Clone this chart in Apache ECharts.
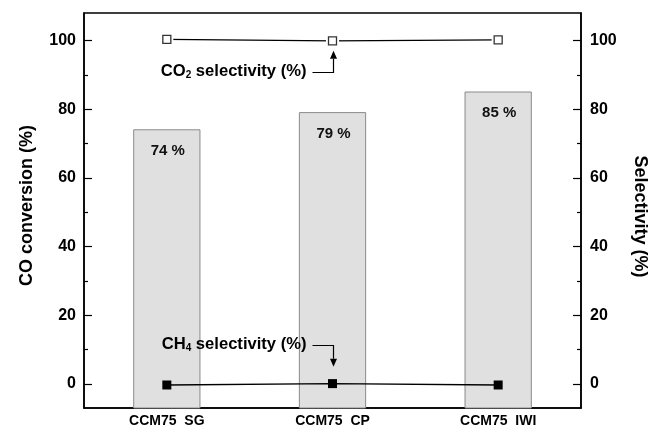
<!DOCTYPE html>
<html>
<head>
<meta charset="utf-8">
<script src="https://cdn.jsdelivr.net/npm/echarts@6/dist/echarts.min.js"></script>
<style>html,body{margin:0;padding:0;background:#fff}#c{width:663px;height:435px}</style>
</head>
<body>
<div id="c"></div>
<script>
const categories = ['CCM75  SG', 'CCM75  CP', 'CCM75  IWI'];
const coConversion = [74, 79, 85];
const co2Selectivity = [100.3, 99.9, 100.2];
const ch4Selectivity = [-0.3, 0.1, -0.3];
const majorTicks = [0, 20, 40, 60, 80, 100];
const minorTicks = [10, 30, 50, 70, 90];
const axisMin = -7, axisMax = 108;

const FONT = '"Liberation Sans", Arial, sans-serif';
const chart = echarts.init(document.getElementById('c'), null, {renderer: 'canvas'});

function yAxisDef(pos, major, name) {
  const base = {
    type: 'value', position: pos, min: axisMin, max: axisMax,
    splitLine: {show: false},
    axisLine: {show: major, onZero: false, lineStyle: {color: '#000', width: 1.5}},
    axisTick: {show: true, inside: true, length: major ? 8 : 4,
      customValues: major ? majorTicks : minorTicks,
      lineStyle: {color: '#000', width: 1.2}},
    axisLabel: major ? {show: true, customValues: majorTicks, color: '#000',
      fontWeight: 'bold', fontSize: 16, fontFamily: FONT, margin: pos === 'left' ? 8 : 9} : {show: false}
  };
  if (major && name) {
    base.name = name;
    base.nameLocation = 'middle';
    base.nameRotate = pos === 'left' ? 90 : -90;
    base.nameGap = pos === 'left' ? 48 : 50;
    base.nameTextStyle = {color: '#000', fontWeight: 'bold', fontSize: 18, fontFamily: FONT,
      padding: pos === 'left' ? [0, 0, 0, 10] : [0, 0, 0, 12]};
  }
  return base;
}

const option = {
  animation: false,
  backgroundColor: '#fff',
  grid: {left: 84, right: 82, top: 13, bottom: 27, show: true, borderColor: '#000', borderWidth: 1.5, backgroundColor: 'transparent'},
  xAxis: [{
    type: 'category', data: categories, position: 'bottom', boundaryGap: true,
    axisLine: {onZero: false, lineStyle: {color: '#000', width: 1.5}},
    axisTick: {inside: true, length: 5, alignWithLabel: false, lineStyle: {color: '#000', width: 1.2}},
    axisLabel: {color: '#000', fontWeight: 'bold', fontSize: 14, fontFamily: FONT, margin: 6},
    splitLine: {show: false}
  }],
  yAxis: [
    yAxisDef('left', true, 'CO conversion (%)'),
    yAxisDef('left', false),
    yAxisDef('right', true, 'Selectivity (%)'),
    yAxisDef('right', false)
  ],
  series: [
    {
      type: 'custom', xAxisIndex: 0, yAxisIndex: 0, z: 1,
      data: coConversion.map((v, i) => [i, v]),
      renderItem: function (params, api) {
        const x = api.value(0), v = api.value(1);
        const top = api.coord([x, v]);
        const base = api.coord([x, axisMin]);
        const w = api.size([1, 0])[0] * 0.4;
        return {
          type: 'group',
          children: [
            {type: 'rect', shape: {x: top[0] - w / 2, y: top[1], width: w, height: base[1] - top[1]},
              style: {fill: '#e0e0e0', stroke: '#8a8a8a', lineWidth: 1}},
            {type: 'text', x: top[0] + 1, y: top[1] + 21,
              style: {text: v + ' %', fill: '#111', font: 'bold 15px ' + FONT, align: 'center', verticalAlign: 'middle'}}
          ]
        };
      }
    },
    {
      type: 'line', yAxisIndex: 2, data: co2Selectivity, z: 3, silent: true,
      lineStyle: {color: '#000', width: 1.3},
      symbol: 'rect', symbolSize: 13, itemStyle: {color: '#fff', borderWidth: 0}
    },
    {
      type: 'scatter', yAxisIndex: 2, data: co2Selectivity, z: 4, silent: true,
      symbol: 'rect', symbolSize: 8, itemStyle: {color: '#fff', borderColor: '#000', borderWidth: 1.3}
    },
    {
      type: 'line', yAxisIndex: 2, data: ch4Selectivity, z: 3, silent: true,
      lineStyle: {color: '#000', width: 1.3},
      symbol: 'rect', symbolSize: 9, itemStyle: {color: '#000', borderWidth: 0}
    }
  ]
};
chart.setOption(option);

// annotations anchored to data coordinates
function px(cat, val) { return chart.convertToPixel({xAxisIndex: 0, yAxisIndex: 2}, [cat, val]); }
function annotation(label, sub, catIdx, lineVal, tipVal, up) {
  const h = px(catIdx, lineVal), t = px(catIdx, tipVal);
  const ax = Math.round(h[0]) + 0.5;
  const hy = Math.round(h[1]) + 0.5;
  const tipY = t[1];
  const headLen = 8, headW = 3.5;
  const baseY = up ? tipY + headLen : tipY - headLen;
  return [
    {type: 'polyline', z: 10, shape: {points: [[ax - 21, hy], [ax, hy], [ax, baseY]]},
      style: {stroke: '#000', lineWidth: 1.2, fill: null}},
    {type: 'polygon', z: 10, shape: {points: [[ax - headW, baseY], [ax + headW, baseY], [ax, tipY]]},
      style: {fill: '#000'}},
    {type: 'text', z: 10, x: ax - 27, y: hy - 1,
      style: {
        text: '{a|' + label + '}{s|' + sub + '}{a| selectivity (%)}',
        align: 'right', verticalAlign: 'middle',
        rich: {
          a: {fill: '#000', fontWeight: 'bold', fontSize: 16.6, fontFamily: FONT, lineHeight: 18},
          s: {fill: '#000', fontWeight: 'bold', fontSize: 10, fontFamily: FONT, lineHeight: 8, verticalAlign: 'bottom'}
        }
      }}
  ];
}
chart.setOption({
  graphic: [].concat(
    annotation('CO', '2', 1, 90.7, 97.0, true),
    annotation('CH', '4', 1, 11.2, 5.0, false)
  )
});
</script>
</body>
</html>
